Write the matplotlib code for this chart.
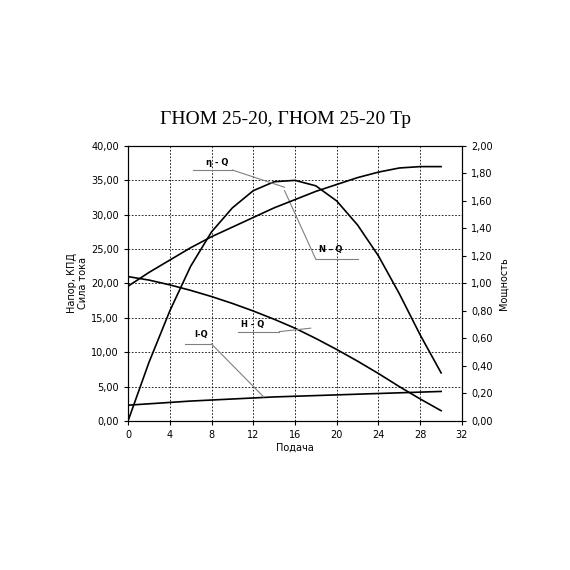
import matplotlib
matplotlib.use("Agg")
import matplotlib.pyplot as plt
import numpy as np

q = [0, 2, 4, 6, 8, 10, 12, 14, 16, 18, 20, 22, 24, 26, 28, 30]
eta = [0, 8.5, 16, 22.5, 27.5, 31, 33.5, 34.8, 35, 34.2, 32, 28.5, 24, 18.5, 12.5, 7]
head = [21, 20.5, 19.8, 19, 18.1, 17.1, 16, 14.8, 13.5, 12, 10.4, 8.7, 6.9, 5, 3.2, 1.5]
power = [0.98, 1.08, 1.17, 1.26, 1.34, 1.41, 1.48, 1.55, 1.61, 1.67, 1.72, 1.77, 1.81, 1.84, 1.85, 1.85]
current = [2.3, 2.5, 2.7, 2.9, 3.05, 3.2, 3.35, 3.5, 3.6, 3.7, 3.8, 3.9, 4.0, 4.1, 4.2, 4.3]

fig = plt.figure(figsize=(5.7, 5.7), dpi=100)
ax = fig.add_axes([0.2246, 0.2614, 0.5859, 0.4825])
ax.plot(q, eta, color='black', lw=1.2)
ax.plot(q, head, color='black', lw=1.2)
ax.plot(q, current, color='black', lw=1.2)
ax.set_xlim(0, 32); ax.set_ylim(0, 40)
ax.set_xticks(range(0, 33, 4))
ax.set_yticks(np.arange(0, 41, 5))
ax.set_yticklabels([f"{v:.2f}".replace('.', ',') for v in np.arange(0, 41, 5)], fontsize=7)
ax.tick_params(labelsize=7, length=3)
ax.grid(True, color='black', ls=(0, (2, 2)), lw=0.6)
ax.set_xlabel("Подача", fontsize=7, labelpad=2)
ax.set_ylabel("Напор, КПД\nСила тока", fontsize=7, labelpad=2)
ax2 = ax.twinx()
ax2.plot(q, power, color='black', lw=1.2)
ax2.set_ylim(0, 2)
ax2.set_yticks(np.arange(0, 2.01, 0.2))
ax2.set_yticklabels([f"{v:.2f}".replace('.', ',') for v in np.arange(0, 2.01, 0.2)], fontsize=7)
ax2.tick_params(length=3)
ax2.set_ylabel("Мощность", fontsize=7)
fig.suptitle("ГНОМ 25-20, ГНОМ 25-20 Тр", y=0.805, fontsize=14, family='Liberation Serif')

lk = dict(color='gray', lw=0.8)
ax.plot([6.2, 10], [36.5, 36.5], **lk); ax.plot([10, 15], [36.5, 34], **lk)
ax.text(7.5, 37.2, "η - Q", fontsize=6, weight='bold')
ax.plot([18, 22], [23.5, 23.5], **lk); ax.plot([18, 15], [23.5, 33.5], **lk)
ax.text(18.3, 24.6, "N - Q", fontsize=6, weight='bold')
ax.plot([10.5, 14.5], [13, 13], **lk); ax.plot([14.5, 17.5], [13, 13.5], **lk)
ax.text(10.8, 13.6, "H - Q", fontsize=6, weight='bold')
ax.plot([5.5, 8], [11.2, 11.2], **lk); ax.plot([8, 13], [11.2, 3.5], **lk)
ax.text(6.3, 12.2, "I-Q", fontsize=6, weight='bold')
fig.savefig("out.png", dpi=100)
